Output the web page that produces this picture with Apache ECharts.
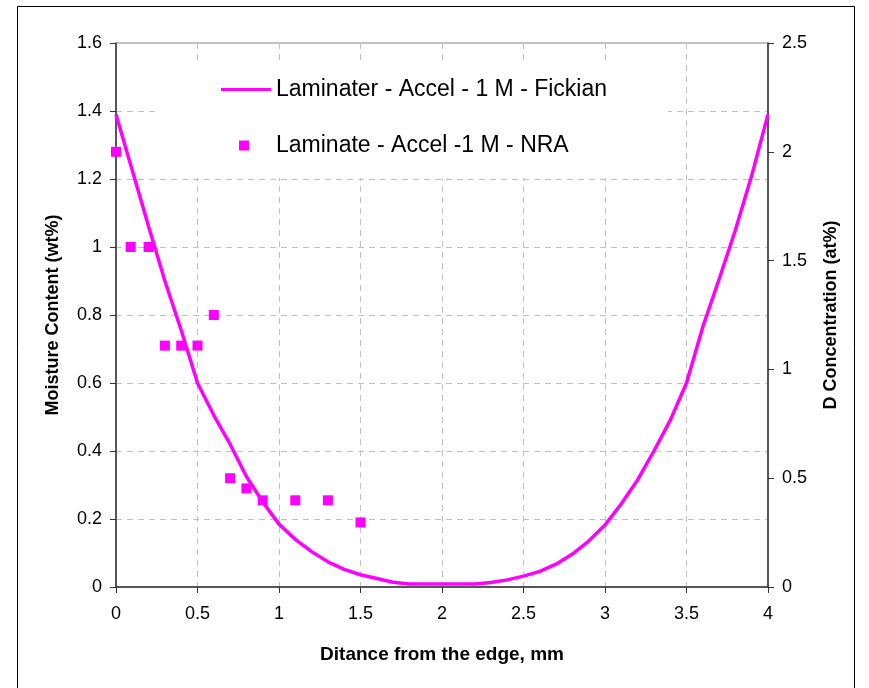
<!DOCTYPE html>
<html>
<head>
<meta charset="utf-8">
<title>Moisture and D concentration profile</title>
<script src="https://cdn.jsdelivr.net/npm/echarts@6/dist/echarts.min.js"></script>
<style>
  html, body { margin: 0; padding: 0; background: #fff; }
  #chart { width: 869px; height: 688px; }
</style>
</head>
<body>
<div id="chart"></div>
<script>
// Fickian moisture profile across the laminate (distance in mm, moisture in wt%)
const fickDist = [0, 0.1, 0.2, 0.3, 0.4, 0.5, 0.6, 0.7, 0.8, 0.9,
                  1.0, 1.1, 1.2, 1.3, 1.4, 1.5, 1.6, 1.7, 1.8, 1.9,
                  2.0, 2.1, 2.2, 2.3, 2.4, 2.5, 2.6, 2.7, 2.8, 2.9,
                  3.0, 3.1, 3.2, 3.3, 3.4, 3.5, 3.6, 3.7, 3.8, 3.9, 4.0];
const fickMoisture = [1.39, 1.225, 1.06, 0.90, 0.755, 0.60, 0.505, 0.42, 0.325, 0.25,
                      0.185, 0.14, 0.104, 0.074, 0.052, 0.036, 0.025, 0.014, 0.009, 0.009,
                      0.009, 0.009, 0.009, 0.013, 0.021, 0.032, 0.046, 0.067, 0.097, 0.135,
                      0.182, 0.245, 0.315, 0.40, 0.49, 0.60, 0.765, 0.905, 1.05, 1.21, 1.39];

// NRA measurements near the edge
const nraDist = [0, 0.09, 0.2, 0.3, 0.4, 0.5, 0.6, 0.7, 0.8, 0.9, 1.1, 1.3, 1.5];
const nraMoisture = [1.28, 1.0, 1.0, 0.71, 0.71, 0.71, 0.80, 0.32, 0.29, 0.255, 0.255, 0.255, 0.19];

const fickName = 'Laminater - Accel - 1 M - Fickian';
const nraName = 'Laminate - Accel -1 M - NRA';

const magenta = '#FF00FF';
const sans = "'Liberation Sans', Arial, sans-serif";
const gridDash = { color: '#c0c0c0', width: 1, type: [6, 5] };
const axisDark = { color: '#333333', width: 1.5 };
const tickStyle = { show: true, inside: false, length: 6, lineStyle: { color: '#333' } };
const oneDecimal = v => String(Math.round(v * 10) / 10);

const chart = echarts.init(document.getElementById('chart'), null, { renderer: 'canvas' });

chart.setOption({
  backgroundColor: '#ffffff',
  animation: false,
  grid: {
    left: 116, right: 101, top: 43, bottom: 101,
    show: true, borderColor: '#808080', borderWidth: 1, backgroundColor: 'transparent'
  },
  graphic: [
    // chart area frame
    { type: 'rect', z: 0, silent: true,
      shape: { x: 17.5, y: 6.5, width: 837, height: 700 },
      style: { fill: 'none', stroke: '#000', lineWidth: 1 } },
    // white box behind the legend
    { type: 'rect', z: 1, silent: true,
      shape: { x: 155, y: 64, width: 513, height: 114 },
      style: { fill: '#ffffff' } }
  ],
  legend: [
    { data: [{ name: fickName, icon: 'rect' }], left: 221, top: 78, padding: 0,
      itemWidth: 50, itemHeight: 3,
      textStyle: { fontFamily: sans, fontSize: 23, color: '#000' } },
    { data: [{ name: nraName, icon: 'rect' }], left: 239, top: 134, padding: 0,
      itemWidth: 10, itemHeight: 10,
      textStyle: { fontFamily: sans, fontSize: 23, color: '#000', padding: [0, 0, 0, 22] } }
  ],
  xAxis: {
    type: 'value', min: 0, max: 4, interval: 0.5,
    name: 'Ditance from the edge, mm', nameLocation: 'middle', nameGap: 58,
    nameTextStyle: { fontFamily: sans, fontSize: 19, fontWeight: 'bold', color: '#000' },
    axisLine: { show: true, lineStyle: axisDark },
    axisTick: tickStyle,
    axisLabel: { fontFamily: sans, fontSize: 18, color: '#000', margin: 18 },
    splitLine: { show: true, lineStyle: gridDash }
  },
  yAxis: [
    { type: 'value', min: 0, max: 1.6, interval: 0.2, position: 'left',
      name: 'Moisture Content (wt%)', nameLocation: 'middle', nameGap: 54, nameRotate: 90,
      nameTextStyle: { fontFamily: sans, fontSize: 18, fontWeight: 'bold', color: '#000' },
      axisLine: { show: true, lineStyle: axisDark },
      axisTick: tickStyle,
      axisLabel: { fontFamily: sans, fontSize: 18, color: '#000', margin: 14, formatter: oneDecimal },
      splitLine: { show: true, lineStyle: gridDash } },
    { type: 'value', min: 0, max: 2.5, interval: 0.5, position: 'right',
      name: 'D Concentration (at%)', nameLocation: 'middle', nameGap: 54, nameRotate: 90,
      nameTextStyle: { fontFamily: sans, fontSize: 18, fontWeight: 'bold', color: '#000' },
      axisLine: { show: true, lineStyle: axisDark },
      axisTick: tickStyle,
      axisLabel: { fontFamily: sans, fontSize: 18, color: '#000', margin: 14, formatter: oneDecimal },
      splitLine: { show: false } }
  ],
  series: [
    { name: fickName, type: 'line', yAxisIndex: 0, z: 3,
      data: fickDist.map((d, i) => [d, fickMoisture[i]]),
      symbol: 'none', smooth: false,
      lineStyle: { color: magenta, width: 3.5 },
      itemStyle: { color: magenta } },
    { name: nraName, type: 'scatter', yAxisIndex: 0, z: 4,
      data: nraDist.map((d, i) => [d, nraMoisture[i]]),
      symbol: 'rect', symbolSize: 10,
      itemStyle: { color: magenta, opacity: 1 } }
  ]
});
</script>
</body>
</html>
